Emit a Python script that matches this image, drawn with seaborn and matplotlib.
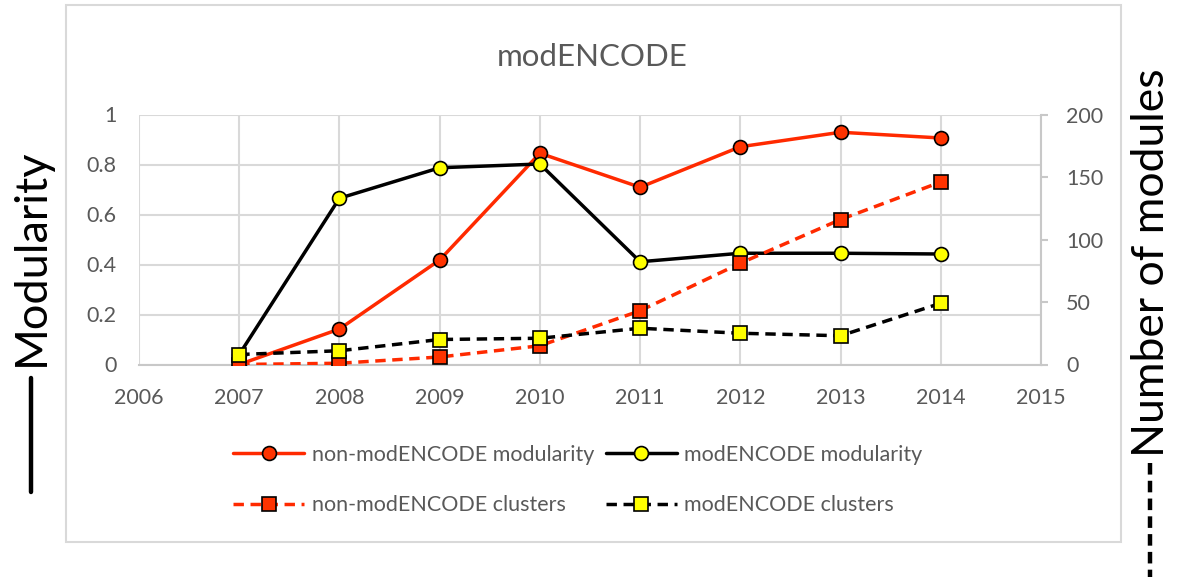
import matplotlib
matplotlib.use("Agg")
import matplotlib.pyplot as plt
import seaborn as sns
import pandas as pd
from matplotlib.lines import Line2D
from matplotlib.patches import Rectangle

# ---- data ----
years = [2007, 2008, 2009, 2010, 2011, 2012, 2013, 2014]
non_mod_modularity = [0.0, 0.142, 0.418, 0.845, 0.709, 0.871, 0.929, 0.906]
mod_modularity = [0.04, 0.665, 0.787, 0.802, 0.411, 0.445, 0.445, 0.442]
non_mod_clusters = [0, 1, 6, 15, 43, 81, 116, 146]
mod_clusters = [8, 11, 20, 21, 29, 25, 23, 49]

title = "modENCODE"
left_ticks = [0, 0.2, 0.4, 0.6, 0.8, 1]
left_tick_labels = ["0", "0.2", "0.4", "0.6", "0.8", "1"]
right_ticks = [0, 50, 100, 150, 200]
x_ticks = list(range(2006, 2016))
labels = ["non-modENCODE modularity", "modENCODE modularity",
          "non-modENCODE clusters", "modENCODE clusters"]

sns.set_theme(style="white")
plt.rcParams['font.family'] = ['Lato', 'DejaVu Sans']

TXT = "#595959"
GRID = "#d9d9d9"
RED = "#FF2A00"
REDF = "#FF3300"
YEL = "#FFFF00"

W, H = 1185, 577
fig = plt.figure(figsize=(W / 100, H / 100), dpi=100)
fig.patch.set_facecolor("white")

L, R, B, T = 139, 1041, 364.5, 114.5
ax = fig.add_axes([L / W, 1 - B / H, (R - L) / W, (B - T) / H])
ax2 = ax.twinx()

df = pd.DataFrame({"year": years,
                   "nm_mod": non_mod_modularity,
                   "m_mod": mod_modularity,
                   "nm_cl": non_mod_clusters,
                   "m_cl": mod_clusters})

lw = 2.5
ms = 10
mew = 1.2
dash = (0, (3.0, 1.9))

sns.lineplot(data=df, x="year", y="nm_mod", ax=ax, color=RED, lw=lw,
             marker="o", markersize=ms, markerfacecolor=REDF,
             markeredgecolor="black", markeredgewidth=mew, zorder=3)
sns.lineplot(data=df, x="year", y="m_mod", ax=ax, color="black", lw=lw,
             marker="o", markersize=ms, markerfacecolor=YEL,
             markeredgecolor="black", markeredgewidth=mew, zorder=4)
sns.lineplot(data=df, x="year", y="nm_cl", ax=ax2, color=RED, lw=lw,
             linestyle=dash, marker="s", markersize=ms, markerfacecolor=REDF,
             markeredgecolor="black", markeredgewidth=mew, zorder=3)
sns.lineplot(data=df, x="year", y="m_cl", ax=ax2, color="black", lw=lw,
             linestyle=dash, marker="s", markersize=ms, markerfacecolor=YEL,
             markeredgecolor="black", markeredgewidth=mew, zorder=4)

ax.set_xlim(2006, 2015)
ax.set_ylim(0, 1)
ax2.set_ylim(0, 200)
ax.set_xticks(x_ticks)
ax.set_xticklabels([str(x) for x in x_ticks])
ax.set_yticks(left_ticks)
ax.set_yticklabels(left_tick_labels)
ax2.set_yticks(right_ticks)
ax2.set_yticklabels([str(v) for v in right_ticks])

ax.set_xlabel("")
ax.set_ylabel("")
ax2.set_ylabel("")

ax.grid(True, color=GRID, lw=1.5)
ax.set_axisbelow(True)
for s in ["top", "left"]:
    ax.spines[s].set_visible(False)
    ax2.spines[s].set_visible(False)
ax.spines["right"].set_visible(False)
ax2.spines["bottom"].set_visible(False)
ax.spines["bottom"].set_color("#c8c8c8")
ax.spines["bottom"].set_linewidth(1.5)
ax2.spines["right"].set_color("#c8c8c8")
ax2.spines["right"].set_linewidth(1.5)

ax.tick_params(axis="both", length=0, labelsize=15.5, colors=TXT)
ax.tick_params(axis="y", pad=16)
ax.tick_params(axis="x", pad=17)
ax2.tick_params(axis="y", which="major", direction="out", length=5, width=1.5,
                color="#c8c8c8", labelsize=15.5, labelcolor=TXT, pad=13)

fig.text(592 / W, 1 - 57 / H, title, ha="center", va="center",
         fontsize=22.5, color=TXT)

h_nm = Line2D([], [], color=RED, lw=lw, marker="o", markersize=ms,
              markerfacecolor=REDF, markeredgecolor="black", markeredgewidth=mew)
h_m = Line2D([], [], color="black", lw=lw, marker="o", markersize=ms,
             markerfacecolor=YEL, markeredgecolor="black", markeredgewidth=mew)
h_nmc = Line2D([], [], color=RED, lw=lw, linestyle=dash, marker="s", markersize=ms,
               markerfacecolor=REDF, markeredgecolor="black", markeredgewidth=mew)
h_mc = Line2D([], [], color="black", lw=lw, linestyle=dash, marker="s", markersize=ms,
              markerfacecolor=YEL, markeredgecolor="black", markeredgewidth=mew)
# column-major order so rows read as in the reference
leg = fig.legend([h_nm, h_nmc, h_m, h_mc],
                 [labels[0], labels[2], labels[1], labels[3]],
                 ncol=2, loc="center left",
                 bbox_to_anchor=(233 / W, 1 - 480 / H), frameon=False,
                 fontsize=15.5, handlelength=3.3, handletextpad=0.35,
                 columnspacing=0.55, labelspacing=1.4, borderpad=0,
                 borderaxespad=0)
for t in leg.get_texts():
    t.set_color(TXT)

# outer chart border
fig.add_artist(Rectangle((66 / W, 1 - 542 / H), (1121 - 66) / W, (542 - 5) / H,
                         transform=fig.transFigure, fill=False,
                         edgecolor=GRID, lw=1.5))

# outer axis labels with line keys
fig.text(31 / W, 1 - 257 / H, "Modularity", rotation=90, ha="center",
         va="center", fontsize=32.5, color="black")
fig.add_artist(Line2D([31 / W, 31 / W], [1 - 378 / H, 1 - 492 / H],
                      transform=fig.transFigure, color="black", lw=3.2))
fig.text(1152 / W, 1 - 263 / H, "Number of modules", rotation=90, ha="center",
         va="center", fontsize=32, color="black")
fig.add_artist(Line2D([1150 / W, 1150 / W], [1 - 463 / H, 0],
                      transform=fig.transFigure, color="black", lw=3.2,
                      linestyle=(0, (2.6, 1.4))))

fig.savefig("out.png", dpi=100, facecolor="white")
